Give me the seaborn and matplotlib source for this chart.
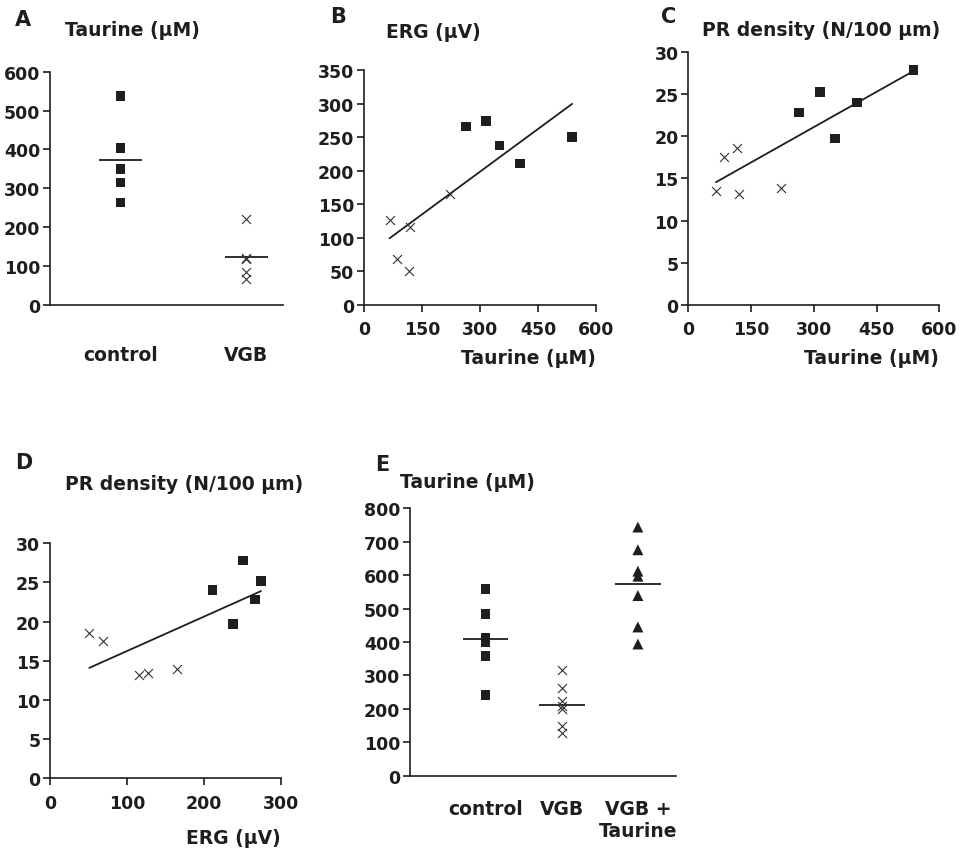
import numpy as np
import matplotlib
matplotlib.use("Agg")
import matplotlib.pyplot as plt
import seaborn as sns

ctrl_taurine = [264, 315, 350, 403, 538]
ctrl_erg = [266, 274, 238, 211, 251]
ctrl_pr = [22.8, 25.2, 19.7, 24.0, 27.8]

vgb_taurine = [66, 86, 117, 120, 222]
vgb_erg = [127, 69, 51, 116, 165]
vgb_pr = [13.5, 17.5, 18.6, 13.2, 13.9]

# panel E, taurine (uM) per group
e_groups = ["control", "VGB", "VGB +\nTaurine"]
e_control = [559, 484, 412, 398, 359, 242]
e_vgb = [316, 261, 223, 210, 199, 148, 128]
e_vgb_taurine = [744, 676, 612, 597, 539, 445, 394]

INK = "#1e1e1e"

sns.set_style("ticks")
plt.rcParams["font.family"] = ["DejaVu Sans"]
plt.rcParams["font.weight"] = "bold"
plt.rcParams["text.color"] = INK
plt.rcParams["axes.labelcolor"] = INK
plt.rcParams["axes.labelweight"] = "bold"


def style(ax, xticks=True):
    sns.despine(ax=ax)
    for s in ("left", "bottom"):
        ax.spines[s].set_linewidth(1.2)
        ax.spines[s].set_color(INK)
    ax.tick_params(axis="y", direction="out", length=5, width=1.2,
                   color=INK, labelcolor=INK, labelsize=12.5, pad=2)
    ax.tick_params(axis="x", direction="out", length=5 if xticks else 0,
                   width=1.2, color=INK, labelcolor=INK, labelsize=12.5, pad=6)


def dots(ax, x, y, kind):
    if kind == "sq":
        sns.scatterplot(x=x, y=y, marker="s", s=48, color=INK,
                        edgecolor="none", ax=ax, zorder=3)
    elif kind == "x":
        sns.scatterplot(x=x, y=y, marker="x", s=42, color="#333333",
                        linewidth=0.8, ax=ax, zorder=3)
    else:
        sns.scatterplot(x=x, y=y, marker="^", s=62, color=INK,
                        edgecolor="none", ax=ax, zorder=3)


def fit(ax, x, y):
    sns.regplot(x=np.array(x), y=np.array(y), scatter=False, ci=None,
                truncate=True, color=INK, line_kws={"lw": 1.3}, ax=ax)


fig = plt.figure(figsize=(9.62, 8.54), dpi=100)

# ---- A: taurine, control vs VGB
axA = fig.add_axes([0.052, 0.6417, 0.242, 0.2732])
for i, (vals, kind) in enumerate([(ctrl_taurine, "sq"), (vgb_taurine, "x")]):
    dots(axA, [i] * len(vals), vals, kind)
    axA.hlines(np.mean(vals), i - 0.17, i + 0.17, color=INK, lw=1.3)
axA.set_xlim(-0.56, 1.29)
axA.set_ylim(0, 600)
axA.set_yticks(range(0, 601, 100))
axA.set_xticks([0, 1])
axA.set_xticklabels(["control", "VGB"])
style(axA, xticks=False)
axA.tick_params(axis="x", pad=29, labelsize=13.5)

# ---- B: ERG vs taurine
axB = fig.add_axes([0.3784, 0.6417, 0.2412, 0.2748])
dots(axB, ctrl_taurine, ctrl_erg, "sq")
dots(axB, vgb_taurine, vgb_erg, "x")
fit(axB, ctrl_taurine + vgb_taurine, ctrl_erg + vgb_erg)
axB.set_xlim(0, 600)
axB.set_ylim(0, 350)
axB.set_xticks(range(0, 601, 150))
axB.set_yticks(range(0, 351, 50))
style(axB)
axB.set_ylabel("")
axB.set_xlabel("Taurine (µM)", loc="right", fontsize=13.5, labelpad=7)

# ---- C: PR density vs taurine
axC = fig.add_axes([0.7155, 0.6417, 0.2609, 0.2966])
dots(axC, ctrl_taurine, ctrl_pr, "sq")
dots(axC, vgb_taurine, vgb_pr, "x")
fit(axC, ctrl_taurine + vgb_taurine, ctrl_pr + vgb_pr)
axC.set_xlim(0, 600)
axC.set_ylim(0, 30)
axC.set_xticks(range(0, 601, 150))
axC.set_yticks(range(0, 31, 5))
style(axC)
axC.set_ylabel("")
axC.set_xlabel("Taurine (µM)", loc="right", fontsize=13.5, labelpad=7)

# ---- D: PR density vs ERG
axD = fig.add_axes([0.052, 0.0875, 0.2401, 0.2752])
dots(axD, ctrl_erg, ctrl_pr, "sq")
dots(axD, vgb_erg, vgb_pr, "x")
fit(axD, ctrl_erg + vgb_erg, ctrl_pr + vgb_pr)
axD.set_xlim(0, 300)
axD.set_ylim(0, 30)
axD.set_xticks(range(0, 301, 100))
axD.set_yticks(range(0, 31, 5))
style(axD)
axD.set_ylabel("")
axD.set_xlabel("ERG (µV)", loc="right", fontsize=13.5, labelpad=12)

# ---- E: taurine in three groups
axE = fig.add_axes([0.4262, 0.0905, 0.2765, 0.3131])
for i, (vals, kind) in enumerate([(e_control, "sq"), (e_vgb, "x"),
                                  (e_vgb_taurine, "tri")]):
    dots(axE, [i] * len(vals), vals, kind)
    axE.hlines(np.mean(vals), i - 0.3, i + 0.3, color=INK, lw=1.3)
axE.set_xlim(-0.99, 2.5)
axE.set_ylim(0, 800)
axE.set_yticks(range(0, 801, 100))
axE.set_xticks([0, 1, 2])
axE.set_xticklabels(e_groups)
style(axE, xticks=False)
axE.tick_params(axis="x", pad=17, labelsize=13.5)

# panel letters and titles
for x, y, s in [(15, 20, "A"), (330, 17, "B"), (661, 17, "C"),
                (15, 463, "D"), (375, 465, "E")]:
    fig.text(x / 962, 1 - y / 854, s, fontsize=15, va="center", ha="left")
for x, y, s in [(65, 30, "Taurine (µM)"), (386, 33, "ERG (µV)"),
                (702, 30, "PR density (N/100 µm)"),
                (65, 485, "PR density (N/100 µm)"), (400, 483, "Taurine (µM)")]:
    fig.text(x / 962, 1 - y / 854, s, fontsize=13.5, va="center", ha="left")

fig.savefig("out.png", dpi=100)
